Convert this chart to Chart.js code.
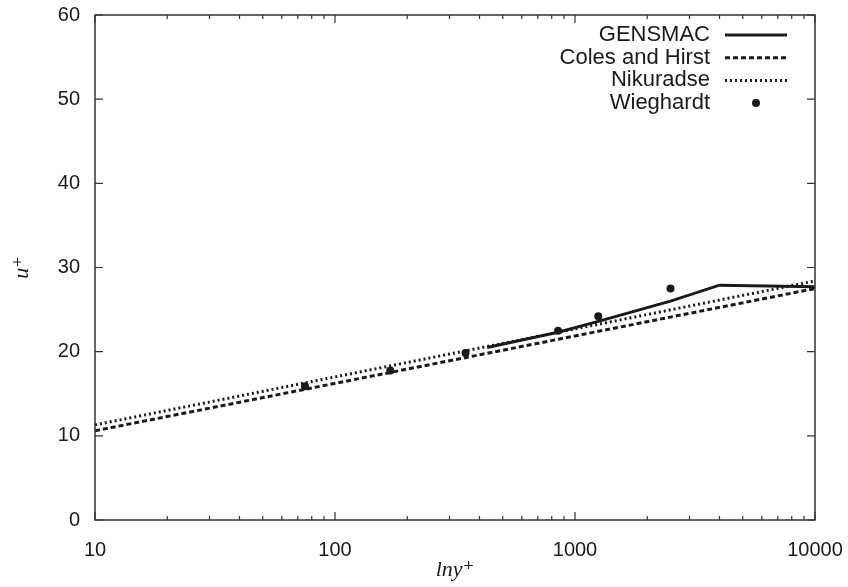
<!DOCTYPE html>
<html>
<head>
<meta charset="utf-8">
<script src="https://cdn.jsdelivr.net/npm/chart.js@4.4.1/dist/chart.umd.min.js"></script>
<style>
html,body{margin:0;padding:0;background:#fff;}
#wrap{width:848px;height:587px;}
</style>
</head>
<body>
<div id="wrap"><canvas id="grafico"></canvas></div>
<script>
// valores
const gensmacX = [430, 850, 1250, 2500, 4000, 10000];
const gensmacY = [20.5, 22.3, 23.6, 26.0, 27.9, 27.7];
const colesX = [10, 10000];
const colesY = [10.6, 27.5];
const nikuradseX = [10, 10000];
const nikuradseY = [11.3, 28.4];
const wieghardtX = [75, 170, 350, 850, 1250, 2500];
const wieghardtY = [15.9, 17.75, 19.85, 22.5, 24.2, 27.5];
const xTicks = [10, 100, 1000, 10000];
const yTicks = [0, 10, 20, 30, 40, 50, 60];

const cor = "#1a1a1a";
function pontos(xs, ys){ return xs.map((x,i)=>({x:x, y:ys[i]})); }

// moldura, ticks pra dentro e legenda estilo gnuplot
const moldura = {
  id: "moldura",
  afterDatasetsDraw(chart){
    const ctx = chart.ctx, a = chart.chartArea;
    const sx = chart.scales.x, sy = chart.scales.y;
    ctx.save();
    ctx.strokeStyle = "#333";
    ctx.lineWidth = 1.5;
    ctx.setLineDash([]);
    ctx.strokeRect(a.left, a.top, a.right - a.left, a.bottom - a.top);
    ctx.lineWidth = 1.2;
    ctx.beginPath();
    for(let k=0;k<xTicks.length;k++){
      const base = xTicks[k];
      for(let m=1;m<10;m++){
        const v = base*m;
        if(v > 10000) break;
        const px = sx.getPixelForValue(v);
        const len = m==1 ? 8 : 4;
        ctx.moveTo(px, a.bottom); ctx.lineTo(px, a.bottom - len);
        ctx.moveTo(px, a.top); ctx.lineTo(px, a.top + len);
      }
    }
    yTicks.forEach(v=>{
      const py = sy.getPixelForValue(v);
      ctx.moveTo(a.left, py); ctx.lineTo(a.left + 8, py);
      ctx.moveTo(a.right, py); ctx.lineTo(a.right - 8, py);
    });
    ctx.stroke();

    // legenda
    ctx.font = "22px 'Liberation Sans', Arial, sans-serif";
    ctx.textAlign = "right";
    ctx.textBaseline = "middle";
    ctx.fillStyle = cor;
    chart.data.datasets.forEach((ds,i)=>{
      const y = 35 + i*22.7;
      ctx.fillText(ds.label, 710, y);
      if(ds.showLine === false){
        ctx.beginPath();
        ctx.arc(756, y, 4, 0, Math.PI*2);
        ctx.fill();
      } else {
        ctx.strokeStyle = ds.borderColor;
        ctx.lineWidth = ds.borderWidth;
        ctx.setLineDash(ds.borderDash || []);
        ctx.beginPath();
        ctx.moveTo(725, y); ctx.lineTo(787, y);
        ctx.stroke();
      }
    });
    ctx.restore();
  }
};

new Chart(document.getElementById("grafico"), {
  type: "line",
  data: {
    datasets: [
      {label:"GENSMAC", data:pontos(gensmacX, gensmacY), borderColor:cor, borderWidth:3, pointRadius:0, fill:false, tension:0},
      {label:"Coles and Hirst", data:pontos(colesX, colesY), borderColor:cor, borderWidth:3, borderDash:[5,3], pointRadius:0, fill:false},
      {label:"Nikuradse", data:pontos(nikuradseX, nikuradseY), borderColor:cor, borderWidth:3, borderDash:[2,3], pointRadius:0, fill:false},
      {label:"Wieghardt", data:pontos(wieghardtX, wieghardtY), showLine:false, pointStyle:"circle", pointRadius:4, pointBackgroundColor:cor, pointBorderWidth:0}
    ]
  },
  options: {
    responsive: true,
    maintainAspectRatio: false,
    animation: false,
    layout: {padding:{top:15, right:33, left:0, bottom:0}},
    plugins: {legend:{display:false}, tooltip:{enabled:false}},
    scales: {
      x: {
        type: "logarithmic", min: 10, max: 10000,
        grid: {display:false, drawTicks:false},
        border: {display:false},
        afterBuildTicks(s){ s.ticks = xTicks.map(v=>({value:v})); },
        afterFit(s){ s.height = 67; s.paddingLeft = 0; s.paddingRight = 0; },
        ticks: {color:cor, padding:18, maxRotation:0, font:{family:"'Liberation Sans', Arial, sans-serif", size:20},
          callback: v => String(v)},
        title: {display:true, text:"lny⁺", color:cor, padding:{top:0, bottom:4},
          font:{family:"'Liberation Serif', 'DejaVu Serif', serif", size:22, style:"italic"}}
      },
      y: {
        min: 0, max: 60,
        grid: {display:false, drawTicks:false},
        border: {display:false},
        afterBuildTicks(s){ s.ticks = yTicks.map(v=>({value:v})); },
        afterFit(s){ s.width = 95; s.paddingTop = 0; s.paddingBottom = 0; },
        ticks: {color:cor, padding:15, font:{family:"'Liberation Sans', Arial, sans-serif", size:20}},
        title: {display:true, text:"u⁺", color:cor, padding:{top:9, bottom:30},
          font:{family:"'Liberation Serif', 'DejaVu Serif', serif", size:22, style:"italic"}}
      }
    }
  },
  plugins: [moldura]
});
</script>
</body>
</html>
